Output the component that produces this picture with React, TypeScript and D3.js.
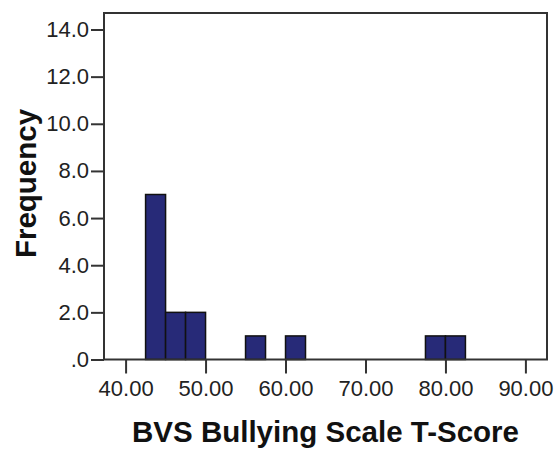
import React, { useEffect, useRef } from "react";
import * as d3 from "d3";

const binStarts = [42.5, 45, 47.5, 55, 60, 77.5, 80];
const binCounts = [7, 2, 2, 1, 1, 1, 1];
const binWidth = 2.5;
const xTicks = [40, 50, 60, 70, 80, 90];
const yTicks = [0, 2, 4, 6, 8, 10, 12, 14];
const xTitle = "BVS Bullying Scale T-Score";
const yTitle = "Frequency";

const W = 555;
const H = 452;
const FONT = "'Liberation Sans', Arial, sans-serif";

export default function App() {
  const gx = useRef<SVGGElement>(null);
  const gy = useRef<SVGGElement>(null);

  const x = d3.scaleLinear().domain([37.3, 92.7]).range([104, 547]);
  const y = d3.scaleLinear().domain([0, 14.7]).range([359.5, 13]);

  useEffect(() => {
    if (gx.current) {
      const s = d3.select(gx.current);
      s.selectAll("*").remove();
      s.call(
        d3
          .axisBottom(x)
          .tickValues(xTicks)
          .tickSize(14)
          .tickPadding(7)
          .tickFormat((d) => (d as number).toFixed(2))
      );
      s.select(".domain").remove();
      s.selectAll(".tick line").attr("stroke", "#333").attr("stroke-width", 2);
      s.selectAll(".tick text")
        .attr("fill", "#222")
        .style("font-family", FONT)
        .style("font-size", "22px");
    }
    if (gy.current) {
      const s = d3.select(gy.current);
      s.selectAll("*").remove();
      s.call(
        d3
          .axisLeft(y)
          .tickValues(yTicks)
          .tickSize(13)
          .tickPadding(2)
          .tickFormat((d) => ((d as number) === 0 ? ".0" : (d as number).toFixed(1)))
      );
      s.select(".domain").remove();
      s.selectAll(".tick line").attr("stroke", "#333").attr("stroke-width", 2);
      s.selectAll(".tick text")
        .attr("fill", "#222")
        .style("font-family", FONT)
        .style("font-size", "22px");
    }
  }, []);

  return (
    <svg
      width={W}
      height={H}
      style={{ position: "absolute", left: 0, top: 0, background: "#fff" }}
    >
      <rect x={0} y={0} width={W} height={H} fill="#fff" />
      {binStarts.map((b, i) => (
        <rect
          key={i}
          x={x(b)}
          y={y(binCounts[i])}
          width={x(b + binWidth) - x(b)}
          height={y(0) - y(binCounts[i])}
          fill="#272a78"
          stroke="#111"
          strokeWidth={1.5}
        />
      ))}
      <rect
        x={x.range()[0]}
        y={y.range()[1]}
        width={x.range()[1] - x.range()[0]}
        height={y.range()[0] - y.range()[1]}
        fill="none"
        stroke="#333"
        strokeWidth={2}
      />
      <g ref={gx} transform={`translate(0,${y(0)})`} />
      <g ref={gy} transform={`translate(${x.range()[0]},0)`} />
      <text
        x={325.5}
        y={442}
        textAnchor="middle"
        fontFamily={FONT}
        fontWeight="bold"
        fontSize={29.5}
        fill="#111"
      >
        {xTitle}
      </text>
      <text
        transform={`translate(36,183.5) rotate(-90)`}
        textAnchor="middle"
        fontFamily={FONT}
        fontWeight="bold"
        fontSize={29.5}
        fill="#111"
      >
        {yTitle}
      </text>
    </svg>
  );
}
